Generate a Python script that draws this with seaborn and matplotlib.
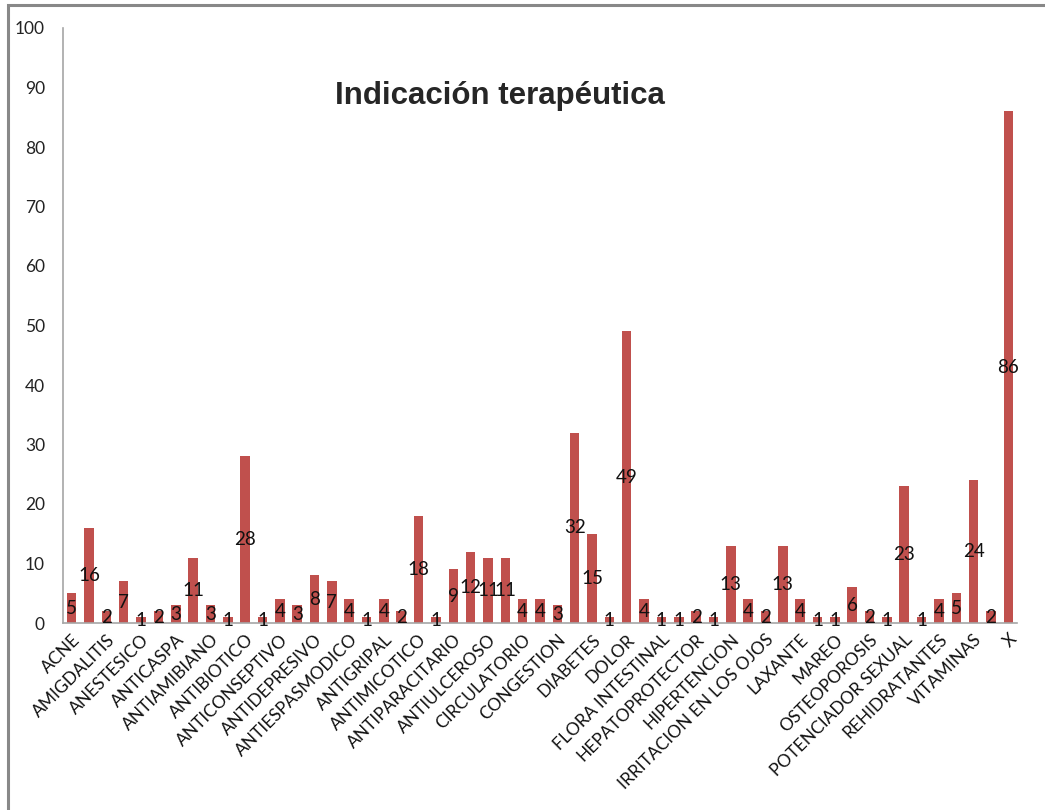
import matplotlib
matplotlib.use("Agg")
import matplotlib.pyplot as plt
import seaborn as sns
import pandas as pd
from matplotlib.patches import Rectangle

# Therapeutic indications: every other category is labelled on the axis
labels = [
    "ACNE", "AMIGDALITIS", "ANESTESICO", "ANTICASPA", "ANTIAMIBIANO",
    "ANTIBIOTICO", "ANTICONSEPTIVO", "ANTIDEPRESIVO", "ANTIESPASMODICO",
    "ANTIGRIPAL", "ANTIMICOTICO", "ANTIPARACITARIO", "ANTIULCEROSO",
    "CIRCULATORIO", "CONGESTION", "DIABETES", "DOLOR", "FLORA INTESTINAL",
    "HEPATOPROTECTOR", "HIPERTENCION", "IRRITACION EN LOS OJOS", "LAXANTE",
    "MAREO", "OSTEOPOROSIS", "POTENCIADOR SEXUAL", "REHIDRATANTES",
    "VITAMINAS", "X",
]

counts = [
    5, 16, 2, 7, 1, 2, 3, 11, 3, 1, 28, 1, 4, 3, 8, 7, 4, 1, 4, 2,
    18, 1, 9, 12, 11, 11, 4, 4, 3, 32, 15, 1, 49, 4, 1, 1, 2, 1, 13, 4,
    2, 13, 4, 1, 1, 6, 2, 1, 23, 1, 4, 5, 24, 2, 86,
]

title = "Indicación terapéutica"

sns.set_theme(style="white")
plt.rcParams["font.family"] = ["Lato", "DejaVu Sans"]

df = pd.DataFrame({"pos": list(range(len(counts))), "count": counts})

fig = plt.figure(figsize=(10.45, 8.10), dpi=100)
ax = fig.add_axes([63 / 1045, 1 - 623 / 810, 954 / 1045, (623 - 28) / 810])

sns.barplot(data=df, x="pos", y="count", color="#C0504D", saturation=1,
            width=0.55, ax=ax, native_scale=True, edgecolor="none")

ax.set_xlim(-0.5, len(counts) - 0.5)
ax.set_ylim(0, 100)
ax.set_yticks(range(0, 101, 10))
ax.tick_params(axis="y", length=0, pad=13, labelsize=12.5, labelcolor="#222222")

ax.set_xticks(range(0, len(counts), 2))
ax.set_xticklabels(labels, rotation=45, ha="right", rotation_mode="anchor",
                   fontsize=12.5, color="#111111")
ax.tick_params(axis="x", length=0, pad=6)
ax.set_xlabel("")
ax.set_ylabel("")

for side in ["top", "right"]:
    ax.spines[side].set_visible(False)
for side in ["left", "bottom"]:
    ax.spines[side].set_color("#A6A6A6")
    ax.spines[side].set_linewidth(1.2)

# value labels centred inside each bar
for x, v in enumerate(counts):
    ax.text(x, v / 2, str(v), ha="center", va="center", fontsize=13.5,
            color="#111111")

ax.text(0.458, 0.885, title, transform=ax.transAxes, ha="center", va="center",
        fontsize=22.5, fontweight="bold", family="Liberation Sans")

# chart area frame
fig.patches.append(Rectangle((8 / 1045, -0.05), 1.2, 1 - 5 / 810 + 0.05,
                             transform=fig.transFigure, fill=False,
                             edgecolor="#888888", linewidth=2.2))

fig.savefig("out.png", dpi=100)
